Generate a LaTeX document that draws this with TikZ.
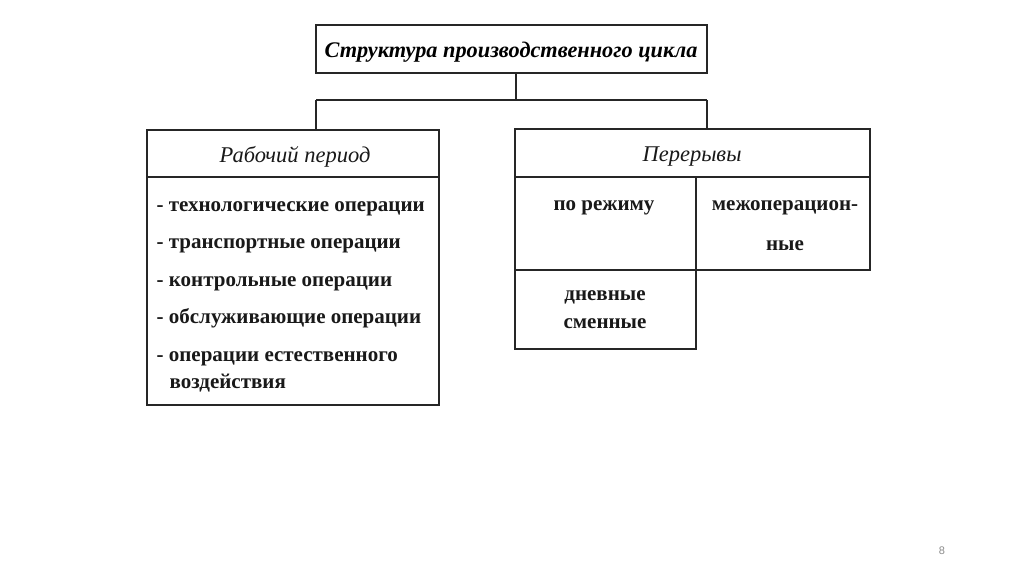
\documentclass[tikz,border=0pt]{standalone}
\usepackage{fontspec}
\setmainfont{Liberation Serif}
\newfontfamily\pagefont{Liberation Sans}
\begin{document}
\begin{tikzpicture}[x=1pt,y=-1pt,line width=1.3pt,
  box/.style={draw=black!85,rectangle,inner sep=0pt,line width=1.3pt},
  txt/.style={inner sep=0pt,font=\fontsize{21}{24}\selectfont\bfseries,text=black!90},
  head/.style={inner sep=0pt,font=\fontsize{22.5}{26}\selectfont\itshape,text=black!90},
  titl/.style={inner sep=0pt,font=\fontsize{22.3}{26}\selectfont\bfseries\itshape,text=black}]
\useasboundingbox[fill=white] (0,0) rectangle (1024,574);
% title
\node[box,minimum width=391pt,minimum height=48pt] (title) at (511.5,49) {};
\node[titl,anchor=base] (titletext) at (511,57) {Структура производственного цикла};
% left
\node[box,minimum width=292pt,minimum height=47pt] (lhead) at (293,153.5) {};
\node[head,anchor=base] (lheadtext) at (295,162) {Рабочий период};
\node[box,minimum width=292pt,minimum height=228pt] (lbody) at (293,291) {};
\node[txt,anchor=base west] (l1) at (156,211) {- технологические операции};
\node[txt,anchor=base west] (l2) at (156,248) {- транспортные операции};
\node[txt,anchor=base west] (l3) at (156,286) {- контрольные операции};
\node[txt,anchor=base west] (l4) at (156,323) {- обслуживающие операции};
\node[txt,anchor=base west] (l5) at (156,361) {- операции естественного};
\node[txt,anchor=base west] (l6) at (169,388) {воздействия};
% right
\node[box,minimum width=355pt,minimum height=48pt] (rhead) at (692.5,153) {};
\node[head,anchor=base] (rheadtext) at (692,161) {Перерывы};
\node[box,minimum width=181pt,minimum height=93pt] (rmode) at (605.5,223.5) {};
\node[txt,anchor=base] (rmodetext) at (604,210) {по режиму};
\node[box,minimum width=174pt,minimum height=93pt] (rinter) at (783,223.5) {};
\node[txt,anchor=base] (rintert1) at (785,210) {межоперацион-};
\node[txt,anchor=base] (rintert2) at (785,250) {ные};
\node[box,minimum width=181pt,minimum height=79pt] (rday) at (605.5,309.5) {};
\node[txt,anchor=base] (rdayt1) at (605,300) {дневные};
\node[txt,anchor=base] (rdayt2) at (605,328) {сменные};
% connectors
\coordinate (j) at (516,100);
\coordinate (jl) at (316,100);
\coordinate (jr) at (707,100);
\draw[black!85] (title.south -| j) -- (j);
\draw[black!85] (jl) -- (jr);
\draw[black!85] (jl) -- (jl |- lhead.north);
\draw[black!85] (jr) -- (jr |- rhead.north);
% page number
\node[inner sep=0pt,font=\pagefont\fontsize{11}{13}\selectfont,text=black!45] (pg) at (942,551) {8};
\end{tikzpicture}
\end{document}
